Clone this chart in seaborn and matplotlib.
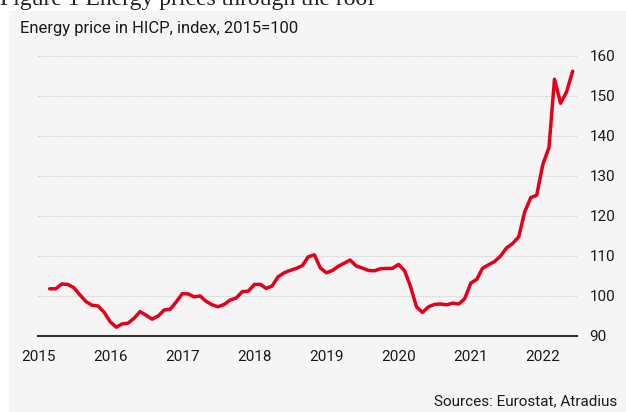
import matplotlib
matplotlib.use("Agg")
import matplotlib.pyplot as plt
import matplotlib.dates as mdates
from matplotlib.patches import Rectangle
import pandas as pd
import seaborn as sns

## Data: HICP energy index (2015=100), monthly Mar 2015 - Jun 2022
start_month = "2015-03-01"
energy_index = [
    101.8, 101.8, 103.0, 102.9, 102.1, 100.3, 98.6, 97.7, 97.5, 96.0,          # 2015
    93.6, 92.2, 93.0, 93.2, 94.4, 96.1, 95.2, 94.2, 95.0, 96.5, 96.7, 98.5,    # 2016
    100.6, 100.5, 99.8, 100.0, 98.7, 97.8, 97.3, 97.9, 99.0, 99.5, 101.1, 101.2,  # 2017
    102.9, 102.9, 101.9, 102.5, 104.8, 105.8, 106.4, 106.9, 107.6, 109.8, 110.3, 107.0,  # 2018
    105.8, 106.4, 107.4, 108.2, 109.0, 107.5, 107.0, 106.4, 106.3, 106.8, 106.9, 106.9,  # 2019
    107.9, 106.3, 102.5, 97.3, 95.9, 97.3, 97.9, 98.0, 97.8, 98.2, 98.0, 99.3,  # 2020
    103.2, 104.2, 106.9, 107.8, 108.6, 110.0, 112.0, 113.1, 114.8, 121.0, 124.6, 125.2,  # 2021
    132.9, 137.1, 154.2, 148.2, 151.0, 156.2,                                   # 2022
]
year_ticks = [2015, 2016, 2017, 2018, 2019, 2020, 2021, 2022]
y_ticks = [90, 100, 110, 120, 130, 140, 150, 160]

df = pd.DataFrame({
    "month": pd.date_range(start_month, periods=len(energy_index), freq="MS"),
    "index": energy_index,
})

sns.set_style("white")
plt.rcParams["font.family"] = ["Roboto", "DejaVu Sans"]

fig = plt.figure(figsize=(6.26, 4.12), dpi=100)
fig.patch.set_facecolor("white")
# grey panel behind the chart
fig.patches.append(Rectangle((9 / 626, 0), 1, 1 - 11 / 412, transform=fig.transFigure,
                             facecolor="#f5f5f5", edgecolor="none", zorder=-5))

ax = fig.add_axes([38 / 626, 1 - 336 / 412, 539 / 626, 280 / 412])
ax.set_facecolor("none")
ax.set_zorder(2)

sns.lineplot(data=df, x="month", y="index", ax=ax, color="#E2001A", linewidth=2.5)

ax.set_ylim(90, 160)
ax.set_xlim(pd.Timestamp("2015-01-01"), pd.Timestamp("2022-06-23"))
ax.set_yticks(y_ticks)
ax.set_xticks([pd.Timestamp(f"{y}-01-01") for y in year_ticks])
ax.xaxis.set_major_formatter(mdates.DateFormatter("%Y"))
ax.yaxis.tick_right()
ax.tick_params(axis="both", length=0, labelsize=11, colors="#1a1a1a")
ax.tick_params(axis="y", pad=9)
ax.tick_params(axis="x", pad=10)
ax.set_xlabel("")
ax.set_ylabel("")

ax.yaxis.grid(True, linestyle=(0, (1, 1)), color="#cccccc", linewidth=0.8)
ax.xaxis.grid(False)
for side in ["top", "right", "left"]:
    ax.spines[side].set_visible(False)
ax.spines["bottom"].set_color("#333333")
ax.spines["bottom"].set_linewidth(1.5)

# texts
fig.text(0.0, 1 - 5 / 412, "Figure 1 Energy prices through the roof",
         family=["Liberation Serif", "DejaVu Serif"],
         fontsize=17, va="baseline", ha="left", color="#222222")
fig.text(20 / 626, 1 - 29 / 412, "Energy price in HICP, index, 2015=100", fontsize=12,
         va="center", ha="left", color="#1a1a1a")
fig.text(617 / 626, 1 - 401 / 412, "Sources: Eurostat, Atradius", fontsize=11,
         va="center", ha="right", color="#1a1a1a")

fig.savefig("out.png", dpi=100, facecolor=fig.get_facecolor())
